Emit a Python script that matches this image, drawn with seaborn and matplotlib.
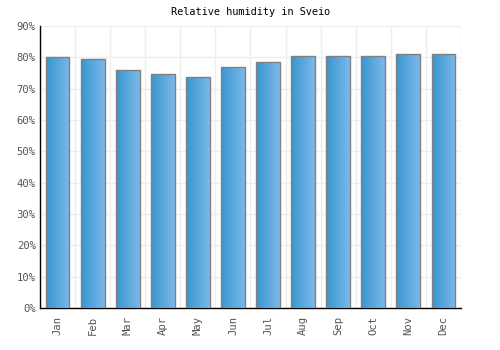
import numpy as np
import pandas as pd
import matplotlib
matplotlib.use("Agg")
import matplotlib.pyplot as plt
import seaborn as sns
from matplotlib.colors import LinearSegmentedColormap

months = ['Jan', 'Feb', 'Mar', 'Apr', 'May', 'Jun', 'Jul', 'Aug', 'Sep', 'Oct', 'Nov', 'Dec']
humidity = [80.0, 79.4, 75.9, 74.6, 73.6, 76.8, 78.4, 80.3, 80.3, 80.3, 81.0, 81.0]
yticks = [0, 10, 20, 30, 40, 50, 60, 70, 80, 90]

df = pd.DataFrame({'month': months, 'humidity': humidity})

sns.set_style('white')
plt.rcParams['font.family'] = ['DejaVu Sans Mono']

fig = plt.figure(figsize=(5, 3.5), dpi=100)
ax = fig.add_axes([0.08, 0.12, 0.842, 0.806])

sns.barplot(data=df, x='month', y='humidity', color='#4aa3dc', width=0.68,
            edgecolor='#808080', linewidth=1, ax=ax, zorder=3)

# horizontal gradient inside each bar
cmap = LinearSegmentedColormap.from_list('bar', ['#3797cf', '#7cb8ea'])
grad = np.linspace(0, 1, 64).reshape(1, -1)
for p in ax.patches:
    x0, y0 = p.get_x(), p.get_y()
    w, h = p.get_width(), p.get_height()
    im = ax.imshow(grad, cmap=cmap, aspect='auto', extent=(x0, x0 + w, y0, y0 + h),
                   zorder=3.5, interpolation='bicubic')
    im.set_clip_path(p)
    p.set_zorder(4)
    p.set_facecolor('none')

ax.set_xlim(-0.5, len(months) - 0.5)
ax.set_ylim(0, 90)
ax.set_yticks(yticks)
ax.set_yticklabels([f'{t}%' for t in yticks])
ax.set_xticks(range(len(months)))
ax.set_xticklabels(months, rotation=90)
ax.set_xticks(np.arange(len(months) + 1) - 0.5, minor=True)

ax.grid(axis='y', which='major', color='#eeeeee', linewidth=1, zorder=0)
ax.grid(axis='x', which='minor', color='#eeeeee', linewidth=1, zorder=0)
ax.set_axisbelow(True)

ax.tick_params(axis='both', which='both', length=0, labelsize=7.6, labelcolor='#555555', pad=6)
ax.tick_params(axis='y', pad=3)
for s in ['top', 'right']:
    ax.spines[s].set_visible(False)
for s in ['left', 'bottom']:
    ax.spines[s].set_color('black')
    ax.spines[s].set_linewidth(1)

ax.set_xlabel('')
ax.set_ylabel('')
ax.set_title('Relative humidity in Sveio', fontsize=7.4, color='black', pad=8)

fig.savefig('out.png', dpi=100)
